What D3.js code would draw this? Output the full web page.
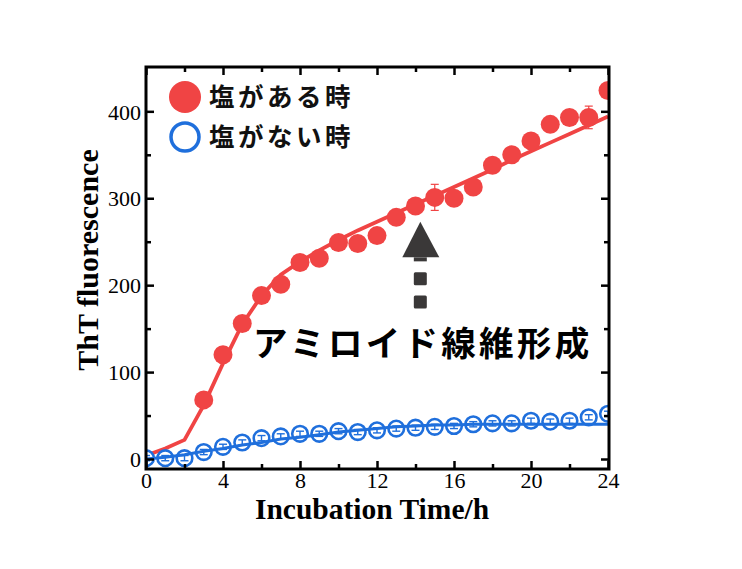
<!DOCTYPE html>
<html><head><meta charset="utf-8">
<script src="https://cdn.jsdelivr.net/npm/d3@7"></script>
<style>html,body{margin:0;padding:0;background:#fff;}</style>
</head><body>
<svg id="chart" width="742" height="569"></svg>
<script>
// ---- data ----
const hoursSalt = [3,4,5,6,7,8,9,10,11,12,13,14,15,16,17,18,19,20,21,22,23,24];
const valuesSalt = [68,120,156,188,201,226,231,249,248,257,278,291,301,300,313,338,350,366,385,393,393,424];
const errorsSalt = [3,3,3,3,3,3,3,3,3,3,3,3,15,3,3,3,3,3,3,3,13,3];
const hoursFit = [0,1,2,3,4,5,6,7,8,9,10,11,12,13,14,15,16,17,18,19,20,21,22,23,24];
const fitSalt = [4,12,22,62,110,155,188,212,227,240,252,263,273,283,293,303,313,323,333,344,354,364,374,384,394];
const hoursNoSalt = [0,1,2,3,4,5,6,7,8,9,10,11,12,13,14,15,16,17,18,19,20,21,22,23,24];
const valuesNoSalt = [1,1,1,8,14,19,24,26,29,29,32,31,33,35,36,37,38,40,41,41,44,43,44,48,52];
const errorsNoSalt = [3,3,3,3,3,3,3,3,3,3,3,3,3,3,3,3,3,3,3,3,3,3,3,3,3];
const fitNoSalt = [0,2,5,9,12,16,19,23,25,28,31,33,35,37,38,39,39,40,40,40,40,40,40,40,40];
const xTicks = [0,4,8,12,16,20,24];
const yTicks = [0,100,200,300,400];
const legendLabels = ["塩がある時","塩がない時"];
const annotationText = "アミロイド線維形成";
const xTitle = "Incubation Time/h";
const yTitle = "ThT fluorescence";

const RED = "#f04444", BLUE = "#1f6fdc", DARK = "#3a3838";
const L = 146, R = 609, T = 67, B = 469;
const svg = d3.select("#chart");
const x = d3.scaleLinear().domain([0,24]).range([146,608]);
const y = d3.scaleLinear().domain([-11.5,451]).range([B,T]);

svg.append("defs").append("clipPath").attr("id","clip")
  .append("rect").attr("x",L).attr("y",T).attr("width",R-L).attr("height",B-T);
const plot = svg.append("g").attr("clip-path","url(#clip)");

// red fit line
plot.append("path").datum(hoursFit.map((h,i)=>[h,fitSalt[i]]))
  .attr("d", d3.line().x(d=>x(d[0])).y(d=>y(d[1])))
  .attr("fill","none").attr("stroke",RED).attr("stroke-width",3.8);
// red error bars
const eg = plot.append("g").attr("stroke",RED).attr("stroke-width",1.2);
hoursSalt.forEach((h,i)=>{
  const cx=x(h), y1=y(valuesSalt[i]-errorsSalt[i]), y2=y(valuesSalt[i]+errorsSalt[i]);
  eg.append("line").attr("x1",cx).attr("x2",cx).attr("y1",y1).attr("y2",y2);
  eg.append("line").attr("x1",cx-4).attr("x2",cx+4).attr("y1",y1).attr("y2",y1);
  eg.append("line").attr("x1",cx-4).attr("x2",cx+4).attr("y1",y2).attr("y2",y2);
});
plot.selectAll(".rp").data(hoursSalt).enter().append("circle")
  .attr("cx",d=>x(d)).attr("cy",(d,i)=>y(valuesSalt[i])).attr("r",9.5).attr("fill",RED);

// blue
plot.selectAll(".bp").data(hoursNoSalt).enter().append("circle")
  .attr("cx",d=>x(d)).attr("cy",(d,i)=>y(valuesNoSalt[i])).attr("r",7.8)
  .attr("fill","#fff").attr("stroke",BLUE).attr("stroke-width",2.6);
const bg = plot.append("g").attr("stroke",BLUE).attr("stroke-width",1.4);
hoursNoSalt.forEach((h,i)=>{
  const cx=x(h), y1=y(valuesNoSalt[i]-errorsNoSalt[i]), y2=y(valuesNoSalt[i]+errorsNoSalt[i]);
  bg.append("line").attr("x1",cx).attr("x2",cx).attr("y1",y1).attr("y2",y2);
  bg.append("line").attr("x1",cx-4).attr("x2",cx+4).attr("y1",y1).attr("y2",y1);
  bg.append("line").attr("x1",cx-4).attr("x2",cx+4).attr("y1",y2).attr("y2",y2);
});
plot.append("path").datum(hoursFit.map((h,i)=>[h,fitNoSalt[i]]))
  .attr("d", d3.line().x(d=>x(d[0])).y(d=>y(d[1])))
  .attr("fill","none").attr("stroke",BLUE).attr("stroke-width",3);

// axes
const tickFont = "Liberation Serif, Times New Roman, serif";
const xAxisB = d3.axisBottom(x).tickValues(xTicks).tickSize(-8).tickPadding(4).tickFormat(d3.format("d"));
const gx = svg.append("g").attr("transform",`translate(0,${B})`).call(xAxisB);
const xAxisBm = d3.axisBottom(x).tickValues(d3.range(2,24,4)).tickSize(-5).tickFormat("");
svg.append("g").attr("transform",`translate(0,${B})`).call(xAxisBm);
svg.append("g").attr("transform",`translate(0,${T})`).call(d3.axisTop(x).tickValues(xTicks).tickSize(-8).tickFormat(""));
svg.append("g").attr("transform",`translate(0,${T})`).call(d3.axisTop(x).tickValues(d3.range(2,24,4)).tickSize(-5).tickFormat(""));
const gy = svg.append("g").attr("transform",`translate(${L},0)`).call(d3.axisLeft(y).tickValues(yTicks).tickSize(-8).tickPadding(5));
svg.append("g").attr("transform",`translate(${L},0)`).call(d3.axisLeft(y).tickValues([50,150,250,350]).tickSize(-5).tickFormat(""));
svg.append("g").attr("transform",`translate(${R},0)`).call(d3.axisRight(y).tickValues(yTicks).tickSize(-8).tickFormat(""));
svg.append("g").attr("transform",`translate(${R},0)`).call(d3.axisRight(y).tickValues([50,150,250,350]).tickSize(-5).tickFormat(""));
svg.selectAll(".domain").remove();
svg.selectAll(".tick line").attr("stroke","#000").attr("stroke-width",2.5);
svg.selectAll(".tick text").attr("font-family",tickFont).attr("font-size",22).attr("fill","#000");
gy.selectAll(".tick text").attr("dy","0.35em");
gx.selectAll(".tick text").attr("dy","0.66em");
svg.append("rect").attr("x",L).attr("y",T).attr("width",R-L).attr("height",B-T)
  .attr("fill","none").attr("stroke","#000").attr("stroke-width",3);

// titles
svg.append("text").attr("x",372).attr("y",519).attr("text-anchor","middle")
  .attr("font-family",tickFont).attr("font-weight","bold").attr("font-size",29.5).text(xTitle);
svg.append("text").attr("transform","translate(98,260) rotate(-90)").attr("text-anchor","middle")
  .attr("font-family",tickFont).attr("font-weight","bold").attr("font-size",30).text(yTitle);

// legend
const jp = "Noto Sans CJK JP, sans-serif";
svg.append("circle").attr("cx",185).attr("cy",97).attr("r",16).attr("fill",RED);
svg.append("circle").attr("cx",185).attr("cy",137).attr("r",14).attr("fill","none").attr("stroke",BLUE).attr("stroke-width",3.5);
legendLabels.forEach((t,i)=>{
  svg.append("text").attr("x",209).attr("y",97+40*i).attr("dy","0.36em")
    .attr("font-family",jp).attr("font-weight","bold").attr("font-size",25.5)
    .attr("letter-spacing",3.5).attr("fill","#111").text(t);
});

// annotation arrow
const ax = x(14.25);
svg.append("path").attr("d",`M${ax},${y(273)} L${ax-18},${y(232)} L${ax+19},${y(232)} Z`).attr("fill",DARK);
svg.append("rect").attr("x",ax-6.5).attr("y",y(232)).attr("width",13).attr("height",4).attr("fill",DARK);
svg.append("rect").attr("x",ax-6.5).attr("y",y(215)).attr("width",13).attr("height",13).attr("rx",1.5).attr("fill",DARK);
svg.append("rect").attr("x",ax-6.5).attr("y",y(188)).attr("width",13).attr("height",13).attr("rx",1.5).attr("fill",DARK);
svg.append("text").attr("x",253).attr("y",344).attr("dy","0.36em")
  .attr("font-family",jp).attr("font-weight","bold").attr("font-size",34.5)
  .attr("letter-spacing",3.3).attr("fill","#000").text(annotationText);
</script>
</body></html>
